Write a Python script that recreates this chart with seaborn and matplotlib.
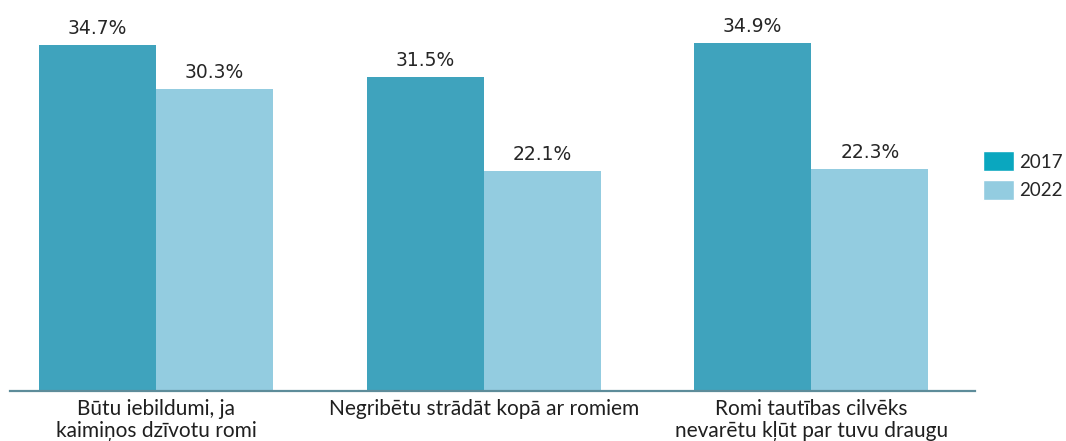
import pandas as pd
import matplotlib.pyplot as plt
import seaborn as sns
from matplotlib.patches import Patch

sns.set_style("white")
plt.rcParams['font.family'] = ['DejaVu Sans']

# data
categories = ["Būtu iebildumi, ja\nkaimiņos dzīvotu romi",
              "Negribētu strādāt kopā ar romiem",
              "Romi tautības cilvēks\nnevarētu kļūt par tuvu draugu"]
values_2017 = [34.7, 31.5, 34.9]
values_2022 = [30.3, 22.1, 22.3]
years = ["2017", "2022"]

df = pd.DataFrame({
    "kategorija": categories * 2,
    "gads": [years[0]] * 3 + [years[1]] * 3,
    "vertiba": values_2017 + values_2022,
})

bar_colors = {"2017": "#3fa3bd", "2022": "#93cce0"}
legend_colors = ["#0aa7bf", "#93cce0"]
label_font = ["Lato", "DejaVu Sans"]

fig = plt.figure(figsize=(10.66, 4.41), dpi=100)
ax = fig.add_axes([10 / 1066, 50 / 441, 965 / 1066, 391 / 441])

sns.barplot(data=df, x="kategorija", y="vertiba", hue="gads", palette=bar_colors,
            width=0.715, gap=0, saturation=1, linewidth=0, ax=ax, legend=False)

ax.set_ylim(0, 39.2)
ax.set_xlim(-0.446, 2.50)

for cont in ax.containers:
    ax.bar_label(cont, fmt="%.1f%%", padding=5, fontsize=13.5, color="#262626")

ax.set_xlabel("")
ax.set_ylabel("")
ax.set_yticks([])
sns.despine(ax=ax, left=True)
ax.spines["bottom"].set_color("#5d8c9a")
ax.spines["bottom"].set_linewidth(1.6)
ax.tick_params(axis="x", length=0, pad=6)
for lbl in ax.get_xticklabels():
    lbl.set_family(label_font)
    lbl.set_fontsize(15)
    lbl.set_color("#1f1f1f")
    lbl.set_linespacing(1.12)

handles = [Patch(facecolor=c) for c in legend_colors]
fig.legend(handles, years, loc="upper left", bbox_to_anchor=(983 / 1066, 1 - 151 / 441),
           frameon=False, borderpad=0, borderaxespad=0,
           handlelength=1.67, handleheight=1.3, handletextpad=0.25, labelspacing=0.45,
           prop={"family": label_font, "size": 13.5})

fig.savefig("out.png", dpi=100)
